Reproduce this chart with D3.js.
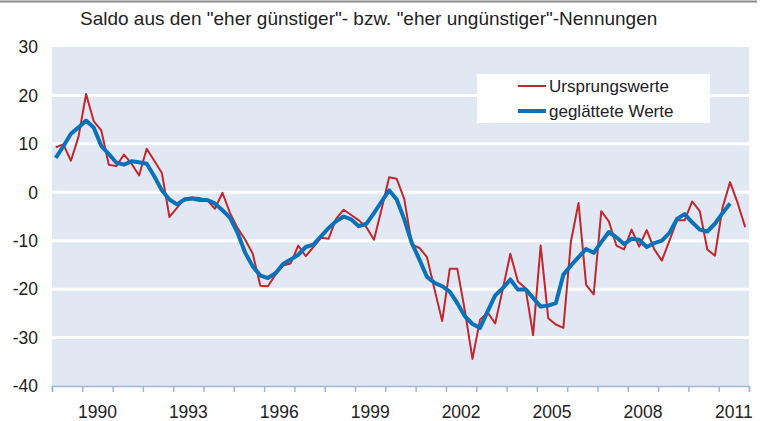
<!DOCTYPE html>
<html>
<head>
<meta charset="utf-8">
<script src="https://cdn.jsdelivr.net/npm/d3@7"></script>
<style>
  body { margin: 0; background: #fff; }
  text { font-family: "Liberation Sans", Arial, sans-serif; fill: #222; }
</style>
</head>
<body>
<div id="chart"></div>
<script>
// quarterly values, first quarter = 1989 Q1
const startYear = 1989;
const ursprungswerte = [
  9.3, 9.9, 6.5, 11.5, 20.3, 14.7, 12.8, 5.7,
  5.4, 7.8, 5.9, 3.5, 9.0, 6.5, 4.0, -5.1,
  -3.2, -1.3, -1.1, -1.2, -1.6, -3.4, -0.1, -4.3,
  -7.4, -9.8, -12.7, -19.3, -19.4, -17.0, -15.1, -14.7,
  -11.0, -13.2, -11.3, -9.4, -9.6, -5.5, -3.6, -4.7,
  -5.8, -7.2, -9.8, -3.5, 3.1, 2.8, -1.4, -10.8,
  -11.5, -13.4, -20.1, -26.6, -15.8, -15.8, -24.5, -34.4,
  -26.3, -24.8, -27.1, -20.0, -12.7, -18.4, -19.8, -29.5,
  -11.0, -26.0, -27.3, -28.0, -10.1, -2.2, -19.1, -21.1,
  -3.9, -6.0, -11.0, -11.8, -7.7, -11.2, -7.8, -11.8,
  -14.1, -10.0, -5.8, -5.8, -1.9, -3.9, -11.8, -13.1,
  -3.2, 2.1, -2.2, -7.2
];
const geglaettet = [
  7.1, 9.5, 12.1, 13.4, 14.8, 13.4, 9.6, 7.9,
  6.1, 5.7, 6.4, 6.2, 5.9, 3.3, 0.4, -1.5,
  -2.5, -1.5, -1.3, -1.6, -1.6, -2.3, -3.7, -5.3,
  -8.4, -12.5, -15.3, -17.2, -17.7, -16.7, -14.8, -13.9,
  -12.9, -11.3, -10.8, -9.1, -7.4, -6.0, -5.0, -5.6,
  -7.0, -6.5, -4.3, -1.9, 0.4, -1.5, -5.6, -10.5,
  -13.9, -17.5, -18.7, -19.4, -20.5, -22.9, -25.6, -27.2,
  -28.0, -24.6, -21.3, -19.8, -18.0, -20.1, -20.0, -21.8,
  -23.6, -23.4, -22.9, -17.0, -15.1, -13.4, -11.7, -12.5,
  -10.3, -8.2, -9.3, -10.7, -9.6, -9.8, -11.3, -10.5,
  -10.0, -8.4, -5.5, -4.5, -6.2, -7.7, -8.1, -6.5,
  -4.3, -2.3
];
const yTicks = [30, 20, 10, 0, -10, -20, -30, -40];
const xLabels = [1990, 1993, 1996, 1999, 2002, 2005, 2008, 2011];
const seriesNames = ["Ursprungswerte", "geglättete Werte"];
const seriesColors = ["#c1272d", "#0b72b9"];

const width = 762, height = 421;
const margin = { top: 47, right: 13, bottom: 35, left: 52 };
const plotW = width - margin.left - margin.right;
const plotH = height - margin.top - margin.bottom;

const svg = d3.select("#chart").append("svg")
  .attr("width", width)
  .attr("height", height);

// top rule + title
svg.append("line")
  .attr("x1", 0).attr("x2", 757)
  .attr("y1", 1.5).attr("y2", 1.5)
  .attr("stroke", "#8a8a8a")
  .attr("stroke-width", 2);

svg.append("text")
  .attr("x", 80)
  .attr("y", 25)
  .attr("font-size", 19)
  .text('Saldo aus den "eher günstiger"- bzw. "eher ungünstiger"-Nennungen');

const g = svg.append("g")
  .attr("transform", `translate(${margin.left},${margin.top})`);

const x = d3.scaleLinear().domain([startYear, 2012]).range([0, plotW]);
const y = d3.scaleLinear().domain([-40, 30]).range([plotH, 0]);

// quarter index -> middle of its quarter band
const qx = i => x(startYear + (i + 0.5) / 4);

g.append("rect")
  .attr("width", plotW)
  .attr("height", plotH)
  .attr("fill", "#e1e8f4");

// grid
g.selectAll(".grid")
  .data(yTicks.filter(d => d > -40 && d < 30))
  .enter().append("line")
  .attr("x1", 0).attr("x2", plotW)
  .attr("y1", d => y(d)).attr("y2", d => y(d))
  .attr("stroke", "#fff")
  .attr("stroke-width", 3);

// y labels
g.selectAll(".ylab")
  .data(yTicks)
  .enter().append("text")
  .attr("x", -14)
  .attr("y", d => y(d))
  .attr("dy", "0.36em")
  .attr("text-anchor", "end")
  .attr("font-size", 17.5)
  .text(d => d);

// x axis
const xAxis = g.append("g")
  .attr("transform", `translate(0,${plotH})`)
  .call(d3.axisBottom(x).tickValues(d3.range(startYear, 2013)).tickSize(6).tickFormat(""));
xAxis.select(".domain").attr("stroke", "#9fb6d8").attr("stroke-width", 1.5);
xAxis.selectAll(".tick line").attr("stroke", "#9fb6d8").attr("stroke-width", 1.5);

g.selectAll(".xlab")
  .data(xLabels)
  .enter().append("text")
  .attr("x", d => x(d + 0.5))
  .attr("y", plotH + 32)
  .attr("text-anchor", "middle")
  .attr("font-size", 17.5)
  .text(d => d);

// legend
const leg = g.append("g");
leg.append("rect")
  .attr("x", 477 - margin.left).attr("y", 74 - margin.top)
  .attr("width", 233).attr("height", 49)
  .attr("fill", "#fff");
seriesNames.forEach((name, k) => {
  const ly = 86 - margin.top + k * 25;
  leg.append("line")
    .attr("x1", 518 - margin.left).attr("x2", 546 - margin.left)
    .attr("y1", ly).attr("y2", ly)
    .attr("stroke", seriesColors[k])
    .attr("stroke-width", k === 0 ? 2 : 4);
  leg.append("text")
    .attr("x", 549 - margin.left)
    .attr("y", ly)
    .attr("dy", "0.36em")
    .attr("font-size", 17)
    .text(name);
});

// lines
const line = d3.line()
  .x((d, i) => qx(i))
  .y(d => y(d));

g.append("path")
  .attr("d", line(ursprungswerte))
  .attr("fill", "none")
  .attr("stroke", seriesColors[0])
  .attr("stroke-width", 2)
  .attr("stroke-linejoin", "round");

g.append("path")
  .attr("d", line(geglaettet))
  .attr("fill", "none")
  .attr("stroke", seriesColors[1])
  .attr("stroke-width", 4)
  .attr("stroke-linejoin", "round");
</script>
</body>
</html>
